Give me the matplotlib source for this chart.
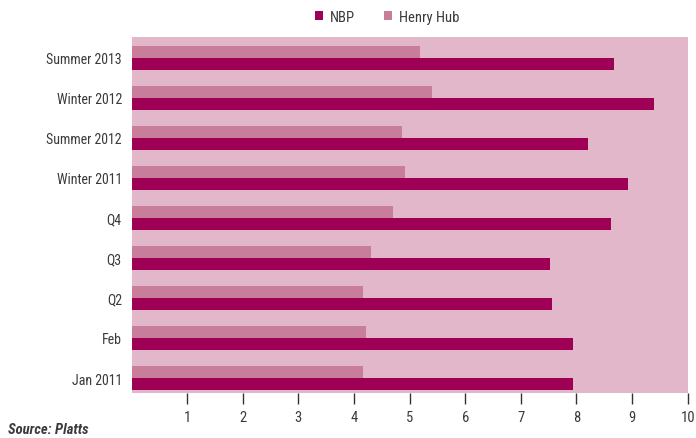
import matplotlib.pyplot as plt
import numpy as np

categories = ['Jan 2011', 'Feb', 'Q2', 'Q3', 'Q4',
              'Winter 2011', 'Summer 2012', 'Winter 2012', 'Summer 2013']
nbp = [7.94, 7.94, 7.56, 7.52, 8.62, 8.93, 8.21, 9.40, 8.67]
henry_hub = [4.17, 4.21, 4.17, 4.31, 4.71, 4.91, 4.87, 5.40, 5.18]
xticks = [1, 2, 3, 4, 5, 6, 7, 8, 9, 10]

plt.rcParams['font.family'] = ['Roboto Condensed', 'DejaVu Sans']

fig = plt.figure(figsize=(6.96, 4.39), dpi=100)
ax = fig.add_axes([0.189, 0.1025, 0.799, 0.811])
ax.set_facecolor('#E2B7CA')

y = np.arange(len(categories))
h = 0.31
ax.barh(y - h / 2, nbp, height=h, color='#9E0055', label='NBP')
ax.barh(y + h / 2, henry_hub, height=h, color='#C87D9B', label='Henry Hub')

ax.set_xlim(0, 10)
ax.set_ylim(-0.375, 8.525)
ax.set_yticks(y)
ax.set_yticklabels(categories, fontsize=10, color='#3a3a3a')
ax.set_xticks(xticks)
ax.set_xticklabels([str(t) for t in xticks], fontsize=10.5, color='#3a3a3a')
ax.tick_params(axis='y', length=0, pad=7)
ax.tick_params(axis='x', length=8, width=1, color='#333333', pad=4)
for s in ax.spines.values():
    s.set_visible(False)

fig.legend(loc='upper center', bbox_to_anchor=(0.556, 1.005), ncol=2,
           frameon=False, fontsize=10.5, handlelength=0.55, handleheight=0.55,
           columnspacing=2.0, handletextpad=0.45, labelcolor='#3a3a3a')

fig.text(0.012, 0.012, 'Source: Platts', fontsize=10.5, fontweight='bold',
         fontstyle='italic', color='#3a3a3a')

fig.savefig('out.png', dpi=100)
